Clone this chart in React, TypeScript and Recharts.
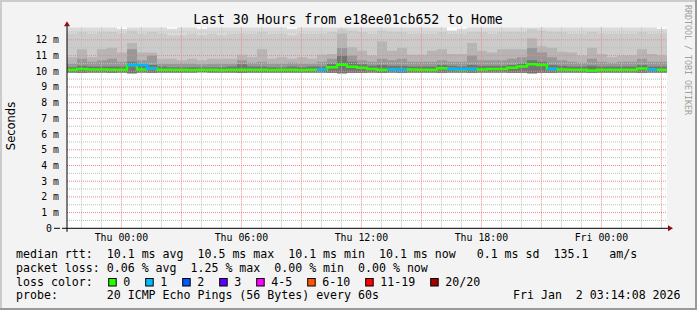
import React from "react";
import {
  Area,
  CartesianGrid,
  ComposedChart,
  Line,
  ReferenceLine,
  XAxis,
  YAxis,
} from "recharts";

const W = 697;
const H = 310;
const PLOT = { left: 67, right: 667, top: 27.3, bottom: 228.3 };

// hours relative to Thu 00:00, one sample every 30 min
const startHour = -2.72;
const stepHours = 0.5;

const median = [
  10.1, 10.15, 10.12, 10.12, 10.1, 10.1, 10.4, 10.12, 10.18, 10.1,
  10.1, 10.1, 10.08, 10.1, 10.1, 10.08, 10.1, 10.1, 10.1, 10.1,
  10.08, 10.1, 10.1, 10.08, 10.1, 10.1, 10.25, 10.42, 10.28, 10.22,
  10.15, 10.1, 10.12, 10.1, 10.12, 10.1, 10.1, 10.2, 10.15, 10.12,
  10.15, 10.12, 10.15, 10.15, 10.22, 10.3, 10.45, 10.4, 10.15, 10.12,
  10.1, 10.1, 10.05, 10.1, 10.1, 10.1, 10.1, 10.18, 10.1, 10.1,
];
const loss = [
  0, 0, 0, 0, 0, 0, 1, 0, 1, 0,
  0, 0, 0, 0, 0, 0, 0, 0, 0, 0,
  0, 0, 0, 0, 0, 1, 0, 0, 0, 0,
  0, 0, 1, 1, 0, 0, 0, 0, 1, 0,
  1, 0, 0, 0, 0, 0, 0, 0, 1, 0,
  0, 0, 0, 0, 0, 0, 0, 0, 1, 0,
];
const smokeMin = [
  9.92, 9.9, 9.92, 9.92, 9.9, 9.92, 9.88, 9.92, 9.9, 9.92,
  9.92, 9.92, 9.92, 9.93, 9.92, 9.92, 9.92, 9.9, 9.92, 9.92,
  9.92, 9.92, 9.92, 9.92, 9.92, 9.92, 9.9, 9.88, 9.9, 9.9,
  9.92, 9.9, 9.92, 9.9, 9.92, 9.92, 9.92, 9.9, 9.92, 9.92,
  9.9, 9.92, 9.92, 9.92, 9.9, 9.9, 9.88, 9.9, 9.9, 9.92,
  9.92, 9.92, 9.9, 9.92, 9.92, 9.92, 9.92, 9.9, 9.92, 9.92,
];
const smokeLo = [
  10.25, 10.35, 10.3, 10.3, 10.3, 10.3, 10.6, 10.35, 10.4, 10.3,
  10.25, 10.25, 10.25, 10.25, 10.25, 10.25, 10.3, 10.45, 10.3, 10.3,
  10.25, 10.25, 10.3, 10.25, 10.3, 10.3, 10.5, 11.0, 10.6, 10.45,
  10.35, 10.4, 10.35, 10.35, 10.3, 10.3, 10.3, 10.4, 10.35, 10.3,
  10.4, 10.35, 10.35, 10.35, 10.4, 10.5, 10.7, 10.6, 10.4, 10.35,
  10.3, 10.3, 10.35, 10.3, 10.3, 10.3, 10.3, 10.4, 10.3, 10.3,
];
const smokeMid = [
  10.5, 10.8, 10.6, 10.7, 10.8, 10.6, 11.4, 10.7, 11.0, 10.5,
  10.5, 10.5, 10.5, 10.45, 10.5, 10.5, 10.5, 10.7, 10.55, 10.6,
  10.5, 10.5, 10.55, 10.5, 10.5, 10.6, 10.8, 11.5, 11.0, 10.7,
  10.6, 10.8, 10.7, 10.8, 10.6, 10.6, 10.6, 10.7, 10.6, 10.6,
  11.0, 10.7, 10.7, 10.7, 10.8, 10.9, 11.5, 11.2, 10.9, 10.7,
  10.6, 10.55, 10.8, 10.6, 10.55, 10.6, 10.6, 10.8, 10.6, 10.6,
];
const smokeHi = [
  10.9, 11.4, 10.9, 11.4, 11.5, 11.2, 11.8, 11.2, 11.2, 10.8,
  10.8, 10.7, 10.8, 10.7, 10.8, 10.8, 10.8, 11.05, 10.9, 11.4,
  10.8, 10.9, 10.8, 10.9, 10.8, 11.05, 11.1, 12.4, 11.55, 11.3,
  11.0, 11.9, 11.3, 11.5, 11.05, 11.05, 11.3, 11.4, 11.1, 11.1,
  11.8, 11.3, 11.2, 11.4, 11.4, 11.4, 12.1, 11.6, 11.5, 11.25,
  11.2, 11.0, 11.5, 11.1, 10.9, 11.0, 11.0, 11.4, 11.1, 11.0,
];
const smokeTop = [
  12.4, 12.5, 12.4, 12.5, 12.5, 12.4, 12.6, 12.4, 12.5, 12.4,
  12.3, 12.3, 12.4, 12.3, 12.4, 12.3, 12.4, 12.4, 12.4, 12.5,
  12.4, 12.4, 12.3, 12.4, 12.4, 12.4, 12.5, 12.7, 12.6, 12.5,
  12.4, 12.6, 12.5, 12.5, 12.4, 12.4, 12.4, 12.5, 12.4, 12.4,
  12.5, 12.5, 12.4, 12.5, 12.5, 12.5, 12.7, 12.6, 12.5, 12.5,
  12.4, 12.4, 12.5, 12.4, 12.4, 12.4, 12.4, 12.5, 12.4, 12.4,
];
const smokeMax = [
  12.8, 12.8, 12.8, 12.8, 12.8, 12.7, 12.8, 12.8, 12.8, 12.8,
  12.7, 12.8, 12.8, 12.7, 12.8, 12.8, 12.8, 12.8, 12.8, 12.8,
  12.8, 12.8, 12.7, 12.8, 12.8, 12.8, 12.8, 12.8, 12.8, 12.8,
  12.8, 12.8, 12.8, 12.8, 12.8, 12.8, 12.8, 12.8, 12.6, 12.7,
  12.8, 12.8, 12.8, 12.8, 12.8, 12.8, 12.8, 12.8, 12.8, 12.8,
  12.8, 12.8, 12.8, 12.8, 12.8, 12.8, 12.8, 12.8, 12.8, 12.7,
];

const yTicks = [0, 1, 2, 3, 4, 5, 6, 7, 8, 9, 10, 11, 12];
const yTickLabels = ["0", "1 m", "2 m", "3 m", "4 m", "5 m", "6 m", "7 m", "8 m", "9 m", "10 m", "11 m", "12 m"];
const xTicks = [0, 6, 12, 18, 24];
const xTickLabels = ["Thu 00:00", "Thu 06:00", "Thu 12:00", "Thu 18:00", "Fri 00:00"];

const title = "Last 30 Hours from e18ee01cb652 to Home";
const rttRow = "median rtt:  10.1 ms avg  10.5 ms max  10.1 ms min  10.1 ms now   0.1 ms sd  135.1   am/s";
const lossRow = "packet loss: 0.06 % avg  1.25 % max  0.00 % min  0.00 % now";
const probeRow = "probe:       20 ICMP Echo Pings (56 Bytes) every 60s";
const dateText = "Fri Jan  2 03:14:08 2026";
const lossLabels = ["0", "1", "2", "3", "4-5", "6-10", "11-19", "20/20"];
const lossColors = ["#26ff00", "#00b8ff", "#0059ff", "#5e00ff", "#ff00ff", "#ff5500", "#ff0000", "#a10000"];

const MONO = "'DejaVu Sans Mono', monospace";
const PRE = { whiteSpace: "pre" as const };

// grid positions
const hMinor: number[] = [];
const hMajor: number[] = [];
for (let v = 0.5; v < 12.8; v += 0.5) (Number.isInteger(v) ? hMajor : hMinor).push(v);
const vMinor: number[] = [];
const vMajor: number[] = [];
for (let h = -2; h <= 27; h++) (h % 3 === 0 ? vMajor : vMinor).push(h);

function buildRows() {
  const n = median.length;
  const rows = [];
  for (let i = 0; i <= n; i++) {
    const j = Math.min(i, n - 1);
    let lossMedian: number | null = null;
    if (i < n && loss[i] > 0) lossMedian = median[i];
    else if (i > 0 && loss[i - 1] > 0) lossMedian = median[i - 1];
    rows.push({
      t: startHour + i * stepHours,
      max: [smokeMin[j], smokeMax[j]],
      top: [smokeMin[j], smokeTop[j]],
      hi: [smokeMin[j], smokeHi[j]],
      mid: [smokeMin[j], smokeMid[j]],
      lo: [smokeMin[j], smokeLo[j]],
      median: median[j],
      lossMedian,
    });
  }
  return rows;
}

const YTick = (props: any) => {
  const i = yTicks.indexOf(props.payload.value);
  const zero = props.payload.value === 0;
  return (
    <g>
      <text
        x={zero ? PLOT.left - 15 : PLOT.left - 8}
        y={props.y + 3.5}
        textAnchor="end"
        fontFamily={MONO}
        fontSize={9.8}
        fill="#000"
      >
        {yTickLabels[i]}
      </text>
      {zero && <line x1={PLOT.left - 13} x2={PLOT.left - 7} y1={props.y} y2={props.y} stroke="#000" />}
    </g>
  );
};

const XTick = (props: any) => {
  const i = xTicks.indexOf(props.payload.value);
  return (
    <text x={props.x} y={PLOT.bottom + 12.7} textAnchor="middle" fontFamily={MONO} fontSize={9.9} fill="#000">
      {xTickLabels[i]}
    </text>
  );
};

export default function App() {
  const rows = buildRows();
  const bands = [
    { key: "max", color: "#dadada" },
    { key: "top", color: "#cbcbcb" },
    { key: "hi", color: "#b5b5b5" },
    { key: "mid", color: "#989898" },
    { key: "lo", color: "#747474" },
  ];

  let bx = 108.7;
  const boxes = lossLabels.map((label, i) => {
    const x = bx;
    bx += 7 * label.length + 30;
    return { x, label, color: lossColors[i] };
  });

  return (
    <div
      style={{
        position: "absolute",
        left: 0,
        top: 0,
        width: W,
        height: H,
        background: "#f3f3f3",
      }}
    >
      <ComposedChart
        width={W}
        height={H}
        data={rows}
        margin={{ top: PLOT.top, right: W - PLOT.right, left: 0, bottom: 0 }}
      >
        <CartesianGrid fill="#ffffff" horizontal={false} vertical={false} />
        <XAxis
          dataKey="t"
          type="number"
          domain={[startHour, startHour + 30]}
          ticks={xTicks}
          interval={0}
          height={H - PLOT.bottom}
          axisLine={false}
          tickLine={false}
          tick={XTick}
          allowDataOverflow
        />
        <YAxis
          type="number"
          domain={[0, 12.8]}
          ticks={yTicks}
          interval={0}
          width={PLOT.left}
          axisLine={false}
          tickLine={false}
          tick={YTick}
          allowDataOverflow
        />
        {bands.map((b) => (
          <Area
            key={b.key}
            dataKey={b.key}
            type="stepAfter"
            stroke="none"
            fill={b.color}
            fillOpacity={1}
            dot={false}
            activeDot={false}
            isAnimationActive={false}
          />
        ))}
        {hMinor.map((v) => (
          <ReferenceLine key={"hm" + v} y={v} stroke="#bdbdbd" strokeDasharray="1 1" />
        ))}
        {vMinor.map((h) => (
          <ReferenceLine key={"vm" + h} x={h} stroke="#bdbdbd" strokeDasharray="1 1" />
        ))}
        {hMajor.map((v) => (
          <ReferenceLine key={"hM" + v} y={v} stroke="#e88a8a" strokeDasharray="1 1" />
        ))}
        {vMajor.map((h) => (
          <ReferenceLine key={"vM" + h} x={h} stroke="#e88a8a" strokeDasharray="1 1" />
        ))}
        <Line
          dataKey="median"
          type="stepAfter"
          stroke={lossColors[0]}
          strokeWidth={2.5}
          dot={false}
          activeDot={false}
          isAnimationActive={false}
        />
        <Line
          dataKey="lossMedian"
          type="stepAfter"
          stroke={lossColors[1]}
          strokeWidth={2.5}
          dot={false}
          activeDot={false}
          connectNulls={false}
          isAnimationActive={false}
        />
      </ComposedChart>

      <svg
        width={W}
        height={H}
        style={{ position: "absolute", left: 0, top: 0, pointerEvents: "none" }}
      >
        {/* frame */}
        <rect x={0} y={0} width={W} height={2} fill="#cbcbcb" />
        <rect x={0} y={0} width={2} height={H} fill="#cbcbcb" />
        <rect x={0} y={H - 2} width={W} height={2} fill="#999999" />
        <rect x={W - 2} y={0} width={2} height={H} fill="#999999" />

        {/* axes */}
        <line x1={PLOT.left - 5} x2={PLOT.right + 2} y1={PLOT.bottom} y2={PLOT.bottom} stroke="#000" />
        <line x1={PLOT.left} x2={PLOT.left} y1={PLOT.bottom + 3.5} y2={PLOT.top - 2} stroke="#000" />
        <polygon
          points={`${PLOT.right + 6},${PLOT.bottom} ${PLOT.right + 1},${PLOT.bottom - 3} ${PLOT.right + 1},${PLOT.bottom + 3}`}
          fill="#8b1010"
        />
        <polygon
          points={`${PLOT.left},${PLOT.top - 6} ${PLOT.left - 3},${PLOT.top - 1} ${PLOT.left + 3},${PLOT.top - 1}`}
          fill="#8b1010"
        />

        <text x={348} y={24} textAnchor="middle" fontFamily={MONO} fontSize={13.2} fill="#000">
          {title}
        </text>
        <text
          x={11}
          y={126}
          transform="rotate(-90 11 126)"
          textAnchor="middle"
          dominantBaseline="central"
          fontFamily="'DejaVu Sans', sans-serif"
          fontSize={11.5}
          fill="#000"
        >
          Seconds
        </text>
        <text
          x={688}
          y={60}
          transform="rotate(90 688 60)"
          textAnchor="middle"
          dominantBaseline="central"
          fontFamily={MONO}
          fontSize={8.3}
          fill="#a0a0a0"
        >
          RRDTOOL / TOBI OETIKER
        </text>

        <g fontFamily={MONO} fontSize={11.6} fill="#000">
          <text x={16} y={258.3} xmlSpace="preserve" style={PRE}>{rttRow}</text>
          <text x={16} y={271.8} xmlSpace="preserve" style={PRE}>{lossRow}</text>
          <text x={16} y={285.5}>loss color:</text>
          {boxes.map((b) => (
            <g key={b.label}>
              <rect x={b.x} y={278.5} width={7.5} height={7.5} fill={b.color} stroke="#000" />
              <text x={b.x + 14.6} y={285.5}>{b.label}</text>
            </g>
          ))}
          <text x={16} y={299} xmlSpace="preserve" style={PRE}>{probeRow}</text>
          <text x={513} y={299} xmlSpace="preserve" style={PRE}>{dateText}</text>
        </g>
      </svg>
    </div>
  );
}
